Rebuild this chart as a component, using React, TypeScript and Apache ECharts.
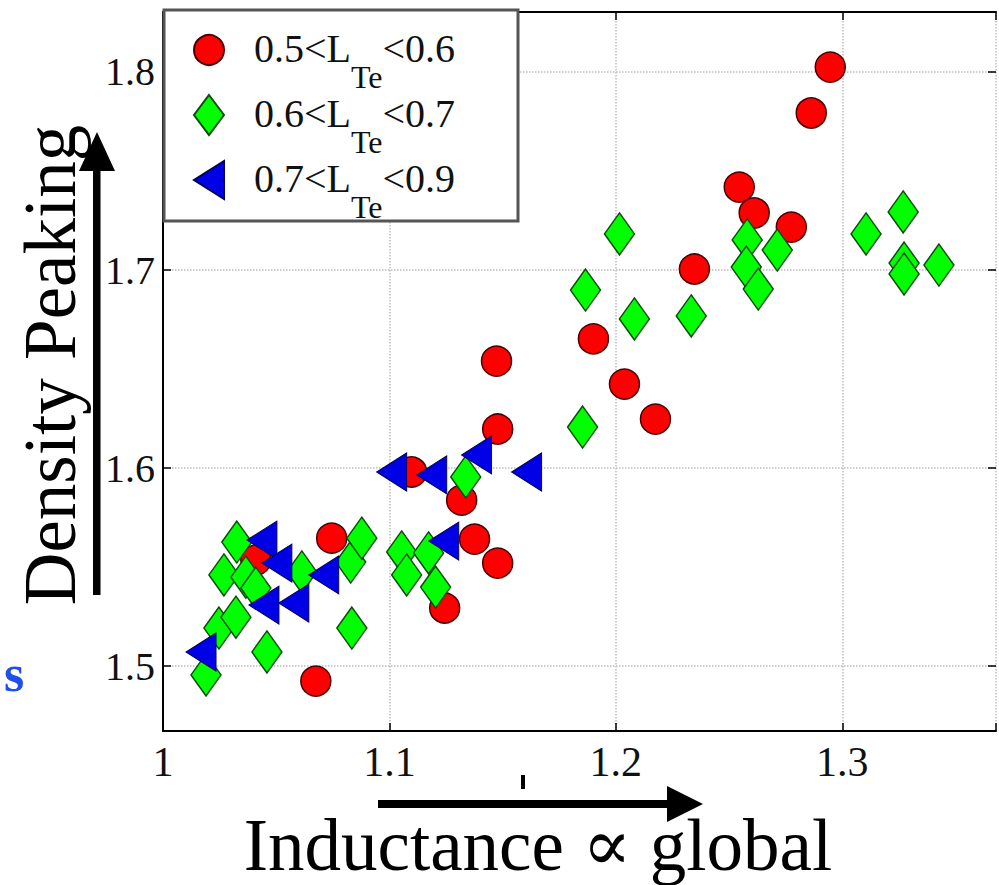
import React, { useEffect, useRef } from "react";
import * as echarts from "echarts";

// ---- data ----
const redX = [1.2947, 1.2863, 1.2545, 1.2611, 1.2775, 1.2347, 1.1901, 1.2038, 1.2175, 1.1473, 1.1478, 1.1098, 1.1319, 1.1376, 1.1478, 1.0745, 1.1244, 1.0675, 1.041];
const redY = [1.8025, 1.7793, 1.7419, 1.7288, 1.7217, 1.7005, 1.6652, 1.6424, 1.6247, 1.654, 1.6197, 1.598, 1.5838, 1.5641, 1.552, 1.5646, 1.5293, 1.4924, 1.5535];

const greenX = [1.2016, 1.1866, 1.2082, 1.2333, 1.1853, 1.258, 1.2576, 1.2629, 1.2713, 1.3105, 1.3269, 1.3273, 1.3273, 1.3427, 1.1337, 1.0326, 1.0269, 1.0366, 1.041, 1.0613, 1.0829, 1.0878, 1.0247, 1.0322, 1.0459, 1.019, 1.0834, 1.1054, 1.1076, 1.1173, 1.1204];
const greenY = [1.7182, 1.6899, 1.6753, 1.6768, 1.6207, 1.7152, 1.7015, 1.6904, 1.7101, 1.7182, 1.7293, 1.7035, 1.698, 1.7025, 1.5955, 1.5626, 1.546, 1.5449, 1.5394, 1.5475, 1.5525, 1.5646, 1.5192, 1.5247, 1.5071, 1.4955, 1.5192, 1.5576, 1.546, 1.5571, 1.5399];

const blueX = [1.101, 1.1187, 1.1385, 1.1606, 1.124, 1.0437, 1.0503, 1.0446, 1.0578, 1.071, 1.0168];
const blueY = [1.598, 1.5965, 1.6066, 1.598, 1.5631, 1.5636, 1.552, 1.5308, 1.5318, 1.546, 1.5071];

const seriesNames = ["0.5<LTe<0.6", "0.6<LTe<0.7", "0.7<LTe<0.9"];
const legendParts: Record<string, string[]> = {
  "0.5<LTe<0.6": ["0.5<L", "Te", "<0.6"],
  "0.6<LTe<0.7": ["0.6<L", "Te", "<0.7"],
  "0.7<LTe<0.9": ["0.7<L", "Te", "<0.9"],
};

const xTitle = "Inductance \u221D global";
const yTitle = "Density Peaking";

const SERIF = "'Liberation Serif', 'DejaVu Serif', serif";

function pairs(xs: number[], ys: number[]) {
  return xs.map((x, i) => [x, ys[i]]);
}

function tickFmt(v: number) {
  const r = Math.round(v * 10) / 10;
  return Math.abs(v - r) < 1e-6 ? String(r) : "";
}

export default function App() {
  const ref = useRef<HTMLDivElement>(null);
  useEffect(() => {
    if (!ref.current) return;
    const chart = echarts.init(ref.current, null, { renderer: "svg" });
    const leftTri = "path://M30,0 L30,38 L0,19 Z";
    chart.setOption({
      animation: false,
      backgroundColor: "#ffffff",
      grid: { left: 163, top: 12, right: 2, bottom: 154, show: false },
      xAxis: [
        {
          type: "value",
          min: 1,
          max: 1.3679,
          interval: 0.1,
          axisLine: { show: true, lineStyle: { color: "#000", width: 2 } },
          axisTick: { show: true, inside: true, length: 8, lineStyle: { color: "#000", width: 1.5 } },
          axisLabel: { formatter: tickFmt, fontFamily: SERIF, fontSize: 42, color: "#111", margin: 10 },
          splitLine: { show: true, lineStyle: { color: "#bdbdbd", type: "dotted", width: 1.5 } },
        },
        {
          type: "value",
          position: "top",
          min: 1,
          max: 1.3679,
          interval: 0.1,
          axisLine: { show: true, lineStyle: { color: "#000", width: 2 } },
          axisTick: { show: true, inside: true, length: 8, lineStyle: { color: "#000", width: 1.5 } },
          axisLabel: { show: false },
          splitLine: { show: false },
        },
      ],
      yAxis: [
        {
          type: "value",
          min: 1.4672,
          max: 1.8303,
          splitNumber: 4,
          axisLine: { show: true, lineStyle: { color: "#000", width: 2 } },
          axisTick: { show: true, inside: true, length: 8, lineStyle: { color: "#000", width: 1.5 } },
          axisLabel: { formatter: tickFmt, fontFamily: SERIF, fontSize: 40, color: "#111", margin: 8 },
          splitLine: { show: true, lineStyle: { color: "#bdbdbd", type: "dotted", width: 1.5 } },
        },
        {
          type: "value",
          position: "right",
          min: 1.4672,
          max: 1.8303,
          splitNumber: 4,
          axisLine: { show: false },
          axisTick: { show: true, inside: true, length: 8, lineStyle: { color: "#000", width: 1.5 } },
          axisLabel: { show: false },
          splitLine: { show: false },
        },
      ],
      legend: {
        orient: "vertical",
        left: 193,
        top: 28,
        padding: 0,
        itemGap: 0,
        itemWidth: 30,
        itemHeight: 40,
        z: 10,
        data: seriesNames,
        formatter: (name: string) => {
          const p = legendParts[name];
          return `{a0|${p[0]}}{s|${p[1]}}{a|${p[2]}}`;
        },
        textStyle: {
          fontFamily: SERIF,
          color: "#111",
          rich: {
            a0: { fontFamily: SERIF, fontSize: 40, lineHeight: 44, padding: [0, 0, 0, 25], verticalAlign: "top", color: "#111" },
            a: { fontFamily: SERIF, fontSize: 40, lineHeight: 44, padding: [0, 0, 0, 0], verticalAlign: "top", color: "#111" },
            s: { fontFamily: SERIF, fontSize: 32, lineHeight: 34, padding: [33, 0, 0, 0], verticalAlign: "top", color: "#111" },
          },
        },
      },
      graphic: [
        {
          type: "rect",
          z: 5,
          shape: { x: 164, y: 10, width: 354, height: 211 },
          style: { fill: "#fff", stroke: "#555", lineWidth: 3 },
        },
        {
          type: "text",
          x: 50,
          y: 365,
          rotation: Math.PI / 2,
          style: { text: yTitle, font: `73px ${SERIF}`, fill: "#000", align: "center", verticalAlign: "middle" },
        },
        {
          type: "text",
          x: 538,
          y: 845,
          style: { text: xTitle, font: `73px ${SERIF}`, fill: "#000", align: "center", verticalAlign: "middle" },
        },
        { type: "rect", shape: { x: 93, y: 166, width: 7.5, height: 429 }, style: { fill: "#000" } },
        { type: "polygon", shape: { points: [[97, 132], [79, 171], [115, 171]] }, style: { fill: "#000" } },
        { type: "rect", shape: { x: 378, y: 800, width: 292, height: 8 }, style: { fill: "#000" } },
        { type: "polygon", shape: { points: [[703, 804], [667, 786], [667, 822]] }, style: { fill: "#000" } },
        { type: "rect", shape: { x: 521, y: 775, width: 4, height: 14 }, style: { fill: "#000" } },
        {
          type: "text",
          x: 4,
          y: 673,
          style: { text: "s", font: `bold 52px ${SERIF}`, fill: "#1f4fe8", align: "left", verticalAlign: "middle" },
        },
      ],
      series: [
        {
          name: seriesNames[0],
          type: "scatter",
          symbol: "circle",
          symbolSize: 30,
          data: pairs(redX, redY),
          itemStyle: { color: "#ff0000", borderColor: "#4a0000", borderWidth: 1.5, opacity: 1 },
        },
        {
          name: seriesNames[1],
          type: "scatter",
          symbol: "diamond",
          symbolSize: [30, 42],
          data: pairs(greenX, greenY),
          itemStyle: { color: "#00ff00", borderColor: "#0b4d0b", borderWidth: 1.5, opacity: 1 },
        },
        {
          name: seriesNames[2],
          type: "scatter",
          symbol: leftTri,
          symbolSize: [30, 38],
          data: pairs(blueX, blueY),
          itemStyle: { color: "#0000e6", borderColor: "#00005a", borderWidth: 1, opacity: 1 },
        },
      ],
    });
    return () => chart.dispose();
  }, []);
  return <div ref={ref} style={{ position: "fixed", left: 0, top: 0, width: 999, height: 885 }} />;
}
